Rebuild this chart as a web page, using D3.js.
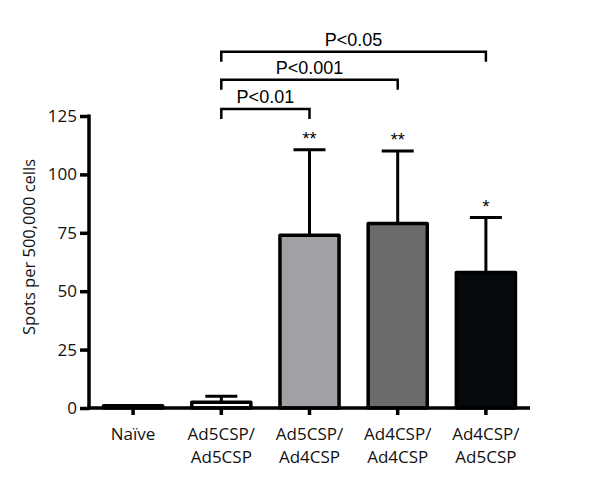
<!DOCTYPE html>
<html><head><meta charset="utf-8">
<script src="https://cdn.jsdelivr.net/npm/d3@7"></script>
<style>body{margin:0;background:#fff;}svg{display:block;}</style>
</head><body>
<svg id="c" width="600" height="479"></svg>
<script>
const categories = [["Naïve"], ["Ad5CSP/","Ad5CSP"], ["Ad5CSP/","Ad4CSP"], ["Ad4CSP/","Ad4CSP"], ["Ad4CSP/","Ad5CSP"]];
const means = [1, 2.5, 74, 79, 58];
const errTops = [null, 5, 110.5, 110, 81.5];
const stars = ["", "", "**", "**", "*"];
const fills = ["#ffffff", "#ffffff", "#a1a1a5", "#6b6b6d", "#05090b"];
const yTicks = [0, 25, 50, 75, 100, 125];
const comparisons = [
  {from: 1, to: 2, level: 128, label: "P<0.01"},
  {from: 1, to: 3, level: 140.5, label: "P<0.001"},
  {from: 1, to: 4, level: 152.5, label: "P<0.05"}
];

const svg = d3.select("#c");
const x = d3.scaleBand().domain(d3.range(categories.length)).range([89, 530]).paddingInner(0.33).paddingOuter(0.165);
const y = d3.scaleLinear().domain([0, 125]).range([408, 116]);
const cx = i => x(i) + x.bandwidth() / 2;

// bars
svg.append("g").selectAll("rect").data(means).join("rect")
  .attr("x", (d, i) => x(i)).attr("width", x.bandwidth())
  .attr("y", d => y(d)).attr("height", d => y(0) - y(d))
  .attr("fill", (d, i) => fills[i]).attr("stroke", "#000").attr("stroke-width", 3.5)
  .attr("stroke-linejoin", "round");

// error bars
const eg = svg.append("g").attr("stroke", "#000").attr("stroke-width", 3);
errTops.forEach((e, i) => {
  if (e == null) return;
  eg.append("line").attr("x1", cx(i)).attr("x2", cx(i)).attr("y1", y(means[i])).attr("y2", y(e));
  eg.append("line").attr("x1", cx(i) - 16).attr("x2", cx(i) + 16).attr("y1", y(e)).attr("y2", y(e));
});

// stars
svg.append("g").selectAll("text").data(stars).join("text")
  .attr("x", (d, i) => cx(i)).attr("y", (d, i) => errTops[i] == null ? 0 : y(errTops[i]) - 5)
  .attr("text-anchor", "middle").attr("font-family", "Liberation Sans, Arial, sans-serif")
  .attr("font-size", 18).text(d => d);

// axes
const yAxis = d3.axisLeft(y).tickValues(yTicks).tickSize(9).tickPadding(3);
const yg = svg.append("g").attr("transform", "translate(89,0)").call(yAxis);
yg.select(".domain").attr("stroke-width", 3.5).attr("d", `M0,${y(125) - 1.5}V${y(0) + 1.5}`);
yg.selectAll(".tick line").attr("stroke-width", 3.5);
yg.selectAll(".tick text").attr("font-family", "Open Sans, sans-serif").attr("font-size", 17).attr("fill", "#111");

const xAxis = d3.axisBottom(x).tickSize(7).tickFormat(() => "");
const xg = svg.append("g").attr("transform", "translate(0,408)").call(xAxis);
xg.select(".domain").attr("stroke-width", 3.5).attr("d", "M87.5,0H530");
xg.selectAll(".tick line").attr("stroke-width", 3.5);
xg.selectAll(".tick").each(function(d) {
  const t = d3.select(this).append("text").attr("fill", "#111").attr("text-anchor", "middle")
    .attr("font-family", "Open Sans, sans-serif").attr("font-size", 17);
  categories[d].forEach((s, k) => t.append("tspan").attr("x", 0).attr("y", 32 + k * 23).text(s));
});

// y label
svg.append("text").attr("transform", "translate(35,247) rotate(-90)").attr("text-anchor", "middle")
  .attr("font-family", "Open Sans, sans-serif").attr("font-size", 16.5).attr("fill", "#111")
  .text("Spots per 500,000 cells");

// significance brackets
const bg = svg.append("g");
comparisons.forEach(c => {
  const x1 = cx(c.from), x2 = cx(c.to), yy = y(c.level);
  bg.append("path").attr("d", `M${x1},${yy + 10}V${yy}H${x2}V${yy + 10}`)
    .attr("fill", "none").attr("stroke", "#000").attr("stroke-width", 2.5);
  bg.append("text").attr("x", (x1 + x2) / 2).attr("y", yy - 6).attr("text-anchor", "middle")
    .attr("font-family", "Liberation Sans, Arial, sans-serif").attr("font-size", 18).text(c.label);
});
</script>
</body></html>
